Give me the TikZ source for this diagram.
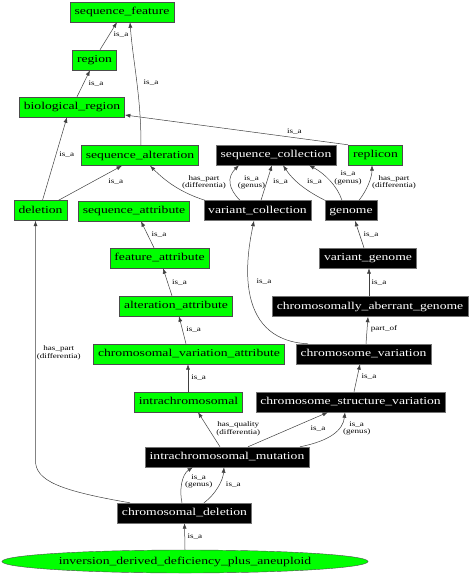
\documentclass[tikz,border=0pt]{standalone}
\usepackage{fontspec}
\setmainfont{Liberation Serif}[FakeStretch=1.3]
\usetikzlibrary{arrows.meta, shapes.geometric}
\definecolor{termgreen}{RGB}{0,255,0}
\tikzset{>={Latex[length=5.5pt,width=4pt]}}

\begin{document}
\begin{tikzpicture}[x=1pt,y=-1pt,
    term/.style={draw=black!70,fill=termgreen,inner xsep=4.5pt,inner ysep=0pt,minimum height=20pt,
        text height=7.4pt,text depth=2.4pt,font=\fontsize{10.5}{12}\selectfont},
    vterm/.style={term,fill=black,draw=black!55,text=white},
    oterm/.style={term,ellipse,inner sep=0pt,minimum width=366pt,minimum height=23pt},
    lbl/.style={font=\fontsize{7}{7.3}\selectfont,inner sep=0pt,align=center},
    link/.style={->,draw=black!75,line width=.5pt},
    every edge/.style={link}]
    \useasboundingbox (0,0) rectangle (471,576);

    \node[term] (sf) at (122,12) {sequence\_feature};
    \node[term] (reg) at (94.5,60) {region};
    \node[term] (bior) at (72,107) {biological\_region};
    \node[term] (salt) at (140,155.5) {sequence\_alteration};
    \node[vterm] (scoll) at (276,155) {sequence\_collection};
    \node[term] (repl) at (375.5,155) {replicon};
    \node[term] (del) at (40.5,210.5) {deletion};
    \node[term] (sattr) at (134,211) {sequence\_attribute};
    \node[vterm] (vcoll) at (257.5,210.5) {variant\_collection};
    \node[vterm] (gen) at (351,210.5) {genome};
    \node[term] (fattr) at (159.5,258) {feature\_attribute};
    \node[vterm] (vgen) at (368,258) {variant\_genome};
    \node[term] (aattr) at (176,306) {alteration\_attribute};
    \node[vterm] (cag) at (370,306.5) {chromosomally\_aberrant\_genome};
    \node[term] (cva) at (189,354) {chromosomal\_variation\_attribute};
    \node[vterm] (cvar) at (363.5,354) {chromosome\_variation};
    \node[term] (intra) at (188.5,402) {intrachromosomal};
    \node[vterm] (csv) at (350.5,402) {chromosome\_structure\_variation};
    \node[vterm] (imut) at (227,457) {intrachromosomal\_mutation};
    \node[vterm] (cdel) at (184.5,513) {chromosomal\_deletion};
    \node[oterm] (inv) at (185,561.5) {inversion\_derived\_deficiency\_plus\_aneuploid};

    \path[->]
        ([xshift=5.5pt]reg.north)    edge node[lbl,xshift=12.5pt,yshift=1pt] {is\_a} ([xshift=-5pt]sf.south)
        ([xshift=5pt]bior.north)     edge node[lbl,xshift=12.5pt] {is\_a} ([xshift=-4.5pt]reg.south)
        ([xshift=2pt]del.north)      edge node[lbl,xshift=12pt,yshift=4.5pt] {is\_a} ([xshift=-5pt]bior.south)
        ([xshift=18pt]del.north)     edge node[lbl,xshift=25.5pt,yshift=1pt] {is\_a} ([xshift=-18pt]salt.south)
        ([xshift=-27.5pt]repl.north) edge node[lbl,pos=.24,yshift=6pt] {is\_a} ([yshift=-8pt]bior.east)
        ([xshift=3.5pt]vcoll.north)  edge node[lbl,xshift=14pt,yshift=1pt] {is\_a} ([xshift=-4pt]scoll.south)
        ([xshift=-5.5pt]fattr.north) edge node[lbl,xshift=11.5pt] {is\_a} ([xshift=7pt]sattr.south)
        ([xshift=-4pt]aattr.north)   edge node[lbl,xshift=12pt,yshift=-.7pt] {is\_a} ([xshift=3.5pt]fattr.south)
        ([xshift=-3pt]cva.north)     edge node[lbl,xshift=11.2pt,yshift=.7pt] {is\_a} ([xshift=3pt]aattr.south)
        ([xshift=-.5pt]intra.north)  edge node[lbl,xshift=10.7pt,yshift=.7pt] {is\_a} ([xshift=-1pt]cva.south)
        ([xshift=-4pt]vgen.north)    edge node[lbl,xshift=11.5pt] {is\_a} ([xshift=4pt]gen.south)
        ([xshift=-1pt]cag.north)     edge node[lbl,xshift=10pt] {is\_a} ([xshift=1pt]vgen.south)
        ([xshift=2.5pt]cvar.north)   edge node[lbl,xshift=17pt,yshift=1.2pt] {part\_of} ([xshift=-2pt]cag.south)
        ([xshift=3.5pt]csv.north)    edge node[lbl,xshift=12pt,yshift=1.3pt] {is\_a} ([xshift=-3.5pt]cvar.south)
        ([xshift=-7pt]imut.north)    edge node[lbl,xshift=29.3pt,yshift=.7pt] {has\_quality\\(differentia)} ([xshift=9.5pt]intra.south)
        ([xshift=21pt]imut.north)    edge node[lbl,xshift=30pt,yshift=.7pt] {is\_a} ([xshift=-22.5pt]csv.south)
        (inv.north)                  edge node[lbl,xshift=10.2pt] {is\_a} (cdel.south)
    ;

    % curved links
    \draw[link] ([xshift=1pt]salt.north) .. controls +(0,-50) and +(3,40) .. ([xshift=8pt]sf.south)
        node[lbl,pos=.5,xshift=14.4pt,yshift=-2.75pt] {is\_a};
    \draw[link] ([xshift=-52.5pt]vcoll.north) .. controls +(-25,-8) and +(15,15) .. ([xshift=10pt]salt.south)
        node[lbl,pos=.5,xshift=30.25pt,yshift=3.6pt] {has\_part\\(differentia)};
    \draw[link] ([xshift=-17.5pt]vcoll.north) .. controls +(-12,-12) and +(-12,12) .. ([xshift=-37pt]scoll.south)
        node[lbl,pos=.5,xshift=21pt,yshift=.5pt] {is\_a\\(genus)};
    \draw[link] ([xshift=-26pt]gen.north) .. controls +(-20,-10) and +(10,15) .. ([xshift=7pt]scoll.south)
        node[lbl,pos=.5,xshift=14.25pt,yshift=2.9pt] {is\_a};
    \draw[link] ([xshift=-9pt]gen.north) .. controls +(-5,-15) and +(15,8) .. ([xshift=33pt]scoll.south)
        node[lbl,pos=.5,xshift=18.75pt,yshift=2.1pt] {is\_a\\(genus)};
    \draw[link] ([xshift=8pt]gen.north) .. controls +(8,-10) and +(0,12) .. ([xshift=-3.5pt]repl.south)
        node[lbl,pos=.5,xshift=25.5pt,yshift=1.25pt] {has\_part\\(differentia)};
    \draw[link] ([xshift=-55.5pt]cvar.north) .. controls +(-78,-4) and +(-6,29) .. ([xshift=-3.5pt]vcoll.south)
        node[lbl,pos=.5,xshift=14.5pt,yshift=9.6pt] {is\_a};
    \draw[link] ([xshift=73pt]imut.north) .. controls +(30,-6) and +(-2,18) .. ([xshift=-5.5pt]csv.south)
        node[lbl,pos=.5,xshift=23.7pt,yshift=5.5pt] {is\_a\\(genus)};
    \draw[link] ([xshift=-2.5pt]cdel.north) .. controls +(-3,-13) and +(-11,7) .. ([xshift=-34pt]imut.south)
        node[lbl,pos=.5,xshift=16.4pt,yshift=1.25pt] {is\_a\\(genus)};
    \draw[link] ([xshift=19.5pt]cdel.north) .. controls +(12,-9) and +(-1,13) .. ([xshift=-3pt]imut.south)
        node[lbl,pos=.5,xshift=15.2pt,yshift=2.2pt] {is\_a};
    \draw[link] ([xshift=-54.5pt]cdel.north) .. controls +(-70,-12) and +(0,20) .. ([xshift=-5pt,yshift=-240pt]del.south)
        -- node[lbl,pos=.5,xshift=23.3pt,yshift=-12pt] {has\_part\\(differentia)} ([xshift=-5pt]del.south);
\end{tikzpicture}
\end{document}
